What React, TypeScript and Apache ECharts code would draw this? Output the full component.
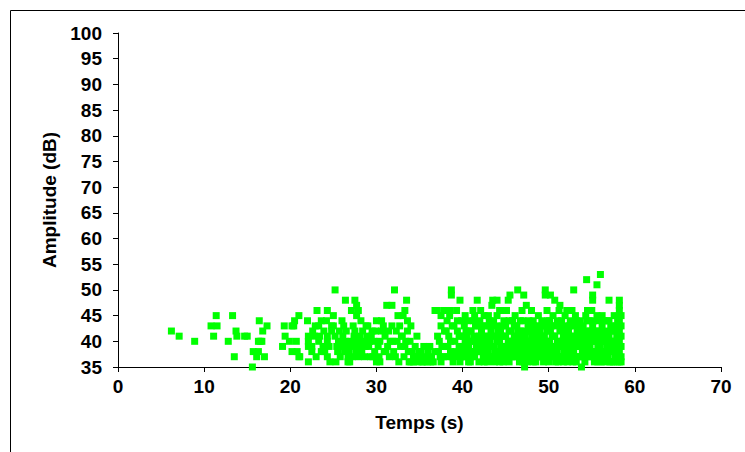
import React, { useEffect, useRef } from "react";
import * as echarts from "echarts";

// Time (s) / Amplitude (dB) pairs
const points0to20: number[][] = [
  [6.2, 42], [7.1, 41], [8.9, 40], [10.8, 43], [11.5, 43], [11.4, 45], [11.1, 41],
  [13.3, 45], [12.8, 40], [13.7, 42], [13.8, 41], [14.7, 41], [13.5, 37], [15.0, 41],
  [15.6, 35], [16.4, 44], [16.8, 42], [17.3, 43], [16.3, 40], [16.7, 40], [15.7, 38],
  [16.3, 38], [16.1, 37], [17.0, 37], [16.5, 40], [19.3, 43], [19.4, 41], [19.1, 39],
  [19.9, 40],
];

const points20to30: number[][] = [
  [20.2, 43], [20.4, 43], [20.5, 44], [21.0, 45], [20.7, 40], [20.2, 38], [20.8, 38],
  [21.0, 37], [21.1, 37], [22.0, 44], [22.1, 41], [22.1, 40], [22.1, 39], [22.1, 36],
  [22.6, 42], [22.8, 41], [22.5, 39], [22.5, 38], [23.0, 37], [23.1, 46], [23.6, 44],
  [23.3, 43], [23.3, 40], [23.8, 39], [23.6, 38], [24.3, 46], [24.3, 41], [24.3, 40],
  [24.5, 39], [24.3, 37], [24.8, 42], [24.8, 43], [24.2, 44], [25.2, 50], [25.0, 45],
  [25.2, 41], [25.4, 39], [25.6, 40], [25.5, 38], [25.8, 37], [25.3, 36], [26.4, 48],
  [26.0, 44], [26.2, 43], [26.1, 41], [26.4, 40], [26.6, 39], [26.7, 36], [26.8, 38],
  [26.9, 36], [26.7, 37], [27.5, 48], [27.7, 47], [27.1, 46], [27.9, 46], [27.7, 45],
  [27.3, 43], [27.5, 42], [27.4, 41], [27.8, 40], [27.3, 39], [27.6, 38], [27.9, 37],
  [28.2, 44], [28.4, 42], [28.5, 40], [28.3, 38], [28.7, 39], [28.9, 41], [29.0, 43],
  [29.3, 37], [29.6, 37], [29.2, 40], [29.5, 42], [29.8, 38], [30.0, 44], [30.0, 36],
  [22.9, 43], [23.4, 41], [23.9, 42], [24.0, 38], [24.6, 36], [25.0, 43], [25.7, 42],
  [25.9, 39], [26.3, 38], [26.5, 42], [27.0, 40], [27.2, 37], [28.0, 39], [28.1, 41],
  [28.6, 37], [28.8, 43], [29.1, 39], [29.4, 41], [29.7, 40], [29.9, 42],
];

const points30to40: number[][] = [
  [30.2, 39], [30.6, 44], [30.6, 42], [30.4, 40], [30.9, 38], [30.4, 36], [31.2, 47],
  [31.8, 47], [32.1, 50], [31.0, 41], [31.3, 39], [31.5, 37], [31.8, 43], [31.9, 40],
  [32.0, 38], [32.3, 42], [32.5, 45], [32.6, 36], [32.8, 39], [33.1, 45], [33.3, 46],
  [33.5, 48], [33.6, 44], [33.0, 41], [33.2, 37], [33.4, 40], [33.8, 36], [33.7, 38],
  [34.0, 43], [34.0, 36], [34.3, 36], [34.3, 37], [34.7, 41], [34.5, 39], [34.8, 36],
  [34.9, 38], [35.2, 38], [35.5, 39], [35.7, 37], [35.5, 36], [36.0, 38], [36.4, 37],
  [36.2, 39], [36.6, 36], [36.8, 46], [37.0, 46], [37.5, 45], [37.8, 46], [38.5, 46],
  [38.5, 45], [39.3, 46], [38.7, 50], [38.7, 49], [39.7, 48], [37.5, 43], [37.9, 42],
  [37.3, 40], [37.6, 39], [37.2, 38], [37.8, 37], [37.5, 36], [38.2, 44], [38.4, 41],
  [38.3, 39], [38.6, 38], [38.8, 37], [38.9, 36], [39.0, 43], [39.1, 40], [39.4, 42],
  [39.6, 39], [39.5, 37], [39.8, 41], [39.9, 44], [39.9, 38], [39.7, 36],
  [30.3, 37], [30.8, 43], [31.1, 38], [31.4, 42], [31.6, 40], [32.2, 37], [32.4, 40],
  [32.7, 43], [32.9, 41], [33.3, 39], [33.6, 42], [33.9, 40], [34.1, 38], [34.6, 37],
  [35.0, 37], [35.3, 36], [35.9, 36], [36.3, 36], [36.8, 38], [37.1, 41], [37.4, 37],
  [37.9, 39], [38.1, 42], [38.2, 37], [38.6, 40], [38.8, 43], [39.2, 38], [39.4, 44],
  [39.6, 41], [39.8, 37],
];

const points40to50: number[][] = [
  [40.2, 43], [40.3, 40], [40.4, 37], [40.6, 44], [40.5, 41], [40.7, 39], [40.8, 38],
  [40.9, 36], [41.0, 42], [41.2, 46], [41.3, 44], [41.1, 40], [41.4, 37], [41.6, 39],
  [41.7, 48], [41.8, 43], [41.9, 41], [41.8, 38], [42.1, 46], [42.0, 44], [42.2, 42],
  [42.3, 40], [42.4, 37], [42.5, 36], [42.6, 39], [42.7, 43], [42.8, 41], [42.9, 38],
  [43.0, 45], [43.1, 44], [43.2, 40], [43.3, 42], [43.4, 47], [43.5, 48], [43.4, 37],
  [43.6, 39], [43.7, 36], [43.8, 41], [43.9, 43], [44.0, 48], [44.0, 45], [44.1, 38],
  [44.2, 40], [44.3, 46], [44.3, 36], [44.4, 42], [44.5, 39], [44.6, 37], [44.8, 44],
  [44.9, 41], [45.0, 43], [45.1, 46], [45.1, 38], [45.3, 48], [45.3, 40], [45.5, 49],
  [45.4, 36], [45.6, 42], [45.7, 37], [45.8, 44], [45.9, 39], [46.0, 41], [46.1, 45],
  [46.2, 38], [46.4, 50], [46.3, 43], [46.5, 40], [46.6, 36], [46.7, 42], [46.9, 46],
  [46.8, 37], [47.1, 49], [47.0, 44], [47.2, 35], [47.2, 39], [47.4, 47], [47.3, 41],
  [47.5, 36], [47.6, 43], [47.7, 38], [47.8, 40], [48.0, 46], [48.0, 42], [48.1, 37],
  [48.2, 44], [48.3, 39], [48.4, 41], [48.5, 36], [48.6, 43], [48.7, 38], [48.8, 45],
  [48.9, 40], [49.0, 42], [49.1, 37], [49.2, 44], [49.3, 39], [49.4, 36], [49.5, 41],
  [49.6, 50], [49.6, 49], [49.7, 43], [49.8, 46], [49.8, 38], [49.9, 40],
  [40.0, 39], [40.1, 41], [40.4, 42], [40.6, 38], [40.8, 40], [41.0, 37], [41.3, 41],
  [41.5, 43], [41.6, 38], [42.0, 39], [42.1, 41], [42.4, 43], [42.6, 37], [42.8, 40],
  [43.0, 38], [43.2, 43], [43.5, 41], [43.7, 39], [43.9, 37], [44.1, 42], [44.3, 40],
  [44.6, 43], [44.7, 38], [45.0, 41], [45.2, 39], [45.4, 44], [45.6, 38], [45.8, 40],
  [46.0, 43], [46.2, 37], [46.3, 41], [46.5, 39], [46.7, 44], [46.9, 40], [47.0, 38],
  [47.2, 42], [47.5, 40], [47.7, 44], [47.9, 37], [48.1, 41], [48.3, 43], [48.5, 39],
  [48.7, 40], [48.9, 37], [49.1, 41], [49.2, 43], [49.4, 38], [49.6, 40], [49.8, 42],
  [49.9, 37],
  [40.1, 37], [40.3, 45], [40.5, 39], [40.7, 36], [40.9, 42], [41.1, 38], [41.4, 45],
  [41.7, 40], [41.9, 36], [42.2, 38], [42.5, 45], [42.7, 41], [42.9, 36], [43.1, 39],
  [43.3, 37], [43.6, 44], [43.8, 38], [44.0, 40], [44.2, 37], [44.5, 41], [44.7, 36],
  [44.9, 39], [45.2, 37], [45.4, 42], [45.7, 40], [45.9, 37], [46.1, 39], [46.4, 42],
  [46.6, 38], [46.8, 41], [47.0, 36], [47.3, 37], [47.6, 39], [47.8, 42], [48.0, 38],
  [48.2, 36], [48.4, 40], [48.6, 37], [48.8, 42], [49.0, 39], [49.3, 41], [49.5, 37],
  [49.7, 39], [49.9, 44],
];

const points50to60: number[][] = [
  [50.0, 36], [50.1, 44], [50.2, 49], [50.2, 42], [50.3, 39], [50.4, 37], [50.5, 45],
  [50.6, 41], [50.7, 48], [50.8, 38], [50.9, 43], [51.0, 40], [51.1, 36], [51.2, 46],
  [51.3, 47], [51.3, 42], [51.4, 39], [51.5, 44], [51.6, 37], [51.7, 41], [51.8, 38],
  [51.9, 45], [52.0, 43], [52.1, 46], [52.1, 40], [52.2, 36], [52.3, 42], [52.4, 39],
  [52.5, 44], [52.6, 37], [52.7, 46], [52.7, 41], [52.8, 36], [52.9, 50], [52.9, 38],
  [53.0, 43], [53.1, 45], [53.2, 40], [53.3, 42], [53.4, 37], [53.5, 39], [53.6, 44],
  [53.7, 41], [53.8, 35], [53.9, 38], [54.0, 43], [54.1, 40], [54.2, 36], [54.3, 45],
  [54.4, 52], [54.4, 42], [54.5, 46], [54.5, 38], [54.6, 39], [54.7, 44], [54.8, 37],
  [54.9, 41], [55.0, 46], [55.1, 49], [55.1, 48], [55.1, 43], [55.2, 40], [55.3, 36],
  [55.4, 38], [55.5, 42], [55.6, 51], [55.6, 45], [55.7, 39], [55.8, 37], [55.9, 44],
  [56.0, 53], [56.0, 41], [56.1, 36], [56.2, 43], [56.3, 38], [56.4, 44], [56.5, 40],
  [56.6, 37], [56.7, 42], [56.8, 44], [56.9, 39], [57.0, 48], [57.0, 41], [57.1, 36],
  [57.2, 43], [57.3, 38], [57.4, 40], [57.5, 36], [57.6, 42], [57.7, 37], [57.8, 39],
  [57.9, 41], [58.0, 36],
  [58.2, 48], [58.2, 47], [58.2, 46], [58.2, 45], [58.2, 44], [58.2, 43], [58.2, 42],
  [58.2, 41], [58.2, 40], [58.2, 39], [58.2, 38], [58.2, 37], [58.2, 36],
  [58.4, 45], [58.4, 43], [58.4, 41], [58.4, 39], [58.4, 37], [58.4, 36],
  [50.1, 40], [50.3, 43], [50.5, 38], [50.7, 41], [50.9, 37], [51.0, 44], [51.2, 39],
  [51.4, 43], [51.6, 40], [51.8, 42], [52.0, 37], [52.2, 41], [52.4, 43], [52.6, 39],
  [52.8, 40], [53.0, 37], [53.2, 44], [53.4, 41], [53.6, 39], [53.8, 42], [54.0, 38],
  [54.2, 41], [54.4, 44], [54.6, 40], [54.8, 42], [55.0, 38], [55.2, 44], [55.4, 41],
  [55.6, 37], [55.8, 40], [56.0, 39], [56.2, 45], [56.4, 37], [56.6, 41], [56.8, 39],
  [57.0, 44], [57.2, 40], [57.4, 42], [57.6, 45], [57.8, 43], [58.0, 40],
  [50.2, 37], [50.4, 41], [50.6, 39], [50.8, 36], [51.0, 38], [51.3, 37], [51.5, 40],
  [51.7, 36], [51.9, 39], [52.1, 38], [52.3, 37], [52.5, 41], [52.7, 38], [53.0, 39],
  [53.2, 36], [53.4, 43], [53.7, 37], [53.9, 40], [54.1, 37], [54.3, 39], [54.6, 37],
  [54.8, 39], [55.0, 41], [55.3, 37], [55.5, 40], [55.7, 36], [55.9, 42], [56.1, 38],
  [56.3, 40], [56.5, 36], [56.7, 38], [56.9, 37], [57.1, 39], [57.3, 36], [57.5, 38],
  [57.7, 40], [57.9, 38], [58.0, 44], [58.1, 42],
];

const xTitle = "Temps (s)";
const yTitle = "Amplitude (dB)";
const xMin = 0, xMax = 70, xStep = 10;
const yMin = 35, yMax = 100, yStep = 5;

export default function App() {
  const ref = useRef<HTMLDivElement>(null);
  useEffect(() => {
    if (!ref.current) return;
    const chart = echarts.init(ref.current, null, { renderer: "svg" });
    const font = "'Liberation Sans', Arial, sans-serif";
    const data = [
      ...points0to20, ...points20to30, ...points30to40, ...points40to50, ...points50to60,
    ];
    chart.setOption({
      animation: false,
      backgroundColor: "#ffffff",
      grid: { left: 118, right: 24, top: 33, bottom: 85 },
      graphic: [
        {
          type: "rect",
          shape: { x: 10.5, y: 10.5, width: 800, height: 500 },
          style: { fill: "none", stroke: "#000", lineWidth: 1 },
          silent: true,
        },
      ],
      xAxis: {
        type: "value",
        min: xMin, max: xMax, interval: xStep,
        name: xTitle,
        nameLocation: "middle",
        nameGap: 46,
        nameTextStyle: { fontFamily: font, fontWeight: "bold", fontSize: 19, color: "#000" },
        axisLine: { show: true, onZero: false, lineStyle: { color: "#000", width: 1 } },
        axisTick: { show: true, length: 5, inside: false, lineStyle: { color: "#000" } },
        axisLabel: { fontFamily: font, fontWeight: "bold", fontSize: 19, color: "#000", margin: 10 },
        splitLine: { show: false },
      },
      yAxis: {
        type: "value",
        min: yMin, max: yMax, interval: yStep,
        name: yTitle,
        nameLocation: "middle",
        nameRotate: 90,
        nameGap: 58,
        nameTextStyle: { fontFamily: font, fontWeight: "bold", fontSize: 19, color: "#000" },
        axisLine: { show: true, onZero: false, lineStyle: { color: "#000", width: 1 } },
        axisTick: { show: true, length: 5, inside: false, lineStyle: { color: "#000" } },
        axisLabel: { fontFamily: font, fontWeight: "bold", fontSize: 19, color: "#000", margin: 16 },
        splitLine: { show: false },
      },
      series: [
        {
          type: "scatter",
          symbol: "rect",
          symbolSize: 7,
          itemStyle: { color: "#00ff00", opacity: 1 },
          data,
        },
      ],
    });
    return () => chart.dispose();
  }, []);
  return (
    <div
      ref={ref}
      style={{ position: "fixed", left: 0, top: 0, width: 745, height: 452, background: "#fff" }}
    />
  );
}
